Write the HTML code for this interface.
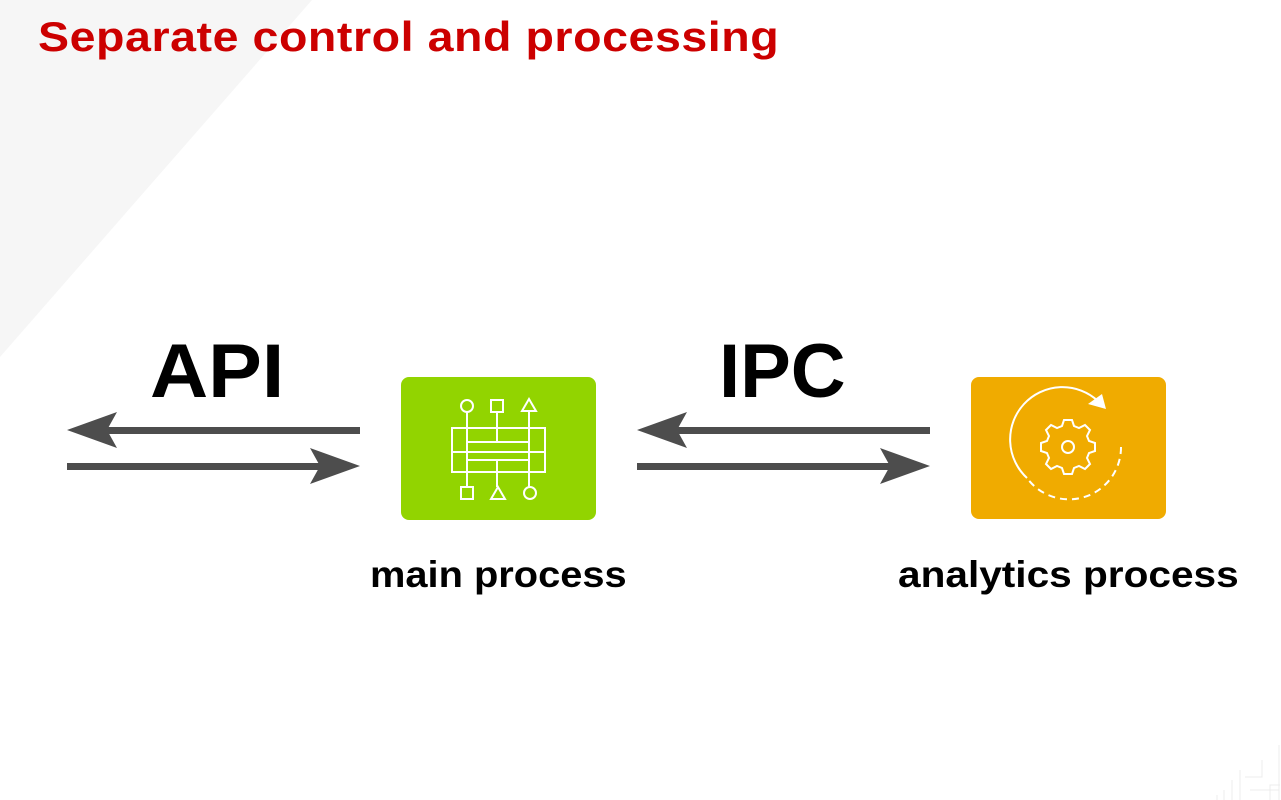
<!DOCTYPE html>
<html><head><meta charset="utf-8"><style>
body{margin:0;width:1281px;height:800px;overflow:hidden;background:#fff;font-family:"Liberation Sans",sans-serif;position:relative}
.t{position:absolute;font-weight:bold;white-space:nowrap;transform-origin:0 0}
</style></head><body>
<svg width="1281" height="800" style="position:absolute;left:0;top:0">
<polygon points="0,0 312,0 0,357" fill="#f6f6f6"/>
<g fill="none" stroke="#ececec" stroke-width="1">
<path d="M1262,760 V777 H1245 M1279,745 V790 H1250 M1279,755 V800 M1270,800 V785 H1280 M1240,800 V770 M1232,800 V780 M1224,800 V790 M1217,800 V795"/>
</g>
<g fill="#4d4d4d">
<rect x="105" y="427" width="255" height="7"/><polygon points="67,430 117,412 107,430 117,448"/>
<rect x="67" y="463" width="255" height="7"/><polygon points="360,466 310,448 320,466 310,484"/>
<rect x="675" y="427" width="255" height="7"/><polygon points="637,430 687,412 677,430 687,448"/>
<rect x="637" y="463" width="255" height="7"/><polygon points="930,466 880,448 890,466 880,484"/>
</g>
<rect x="401" y="377" width="195" height="143" rx="8" fill="#92d400"/>
<g fill="none" stroke="#fff" stroke-width="2">
<circle cx="467" cy="406" r="6"/><rect x="491" y="400" width="12" height="12"/><polygon points="529,399 536,411 522,411"/>
<rect x="452" y="428" width="93" height="44"/>
<path d="M468,442 H529 M452,452 H545 M468,460 H529 M467,412 V487 M497,412 V442 M497,460 V487 M529,412 V487"/>
<rect x="461" y="487" width="12" height="12"/><polygon points="498,487 505,499 491,499"/><circle cx="530" cy="493" r="6"/>
</g>
<rect x="971" y="377" width="195" height="142" rx="8" fill="#f0ab00"/>
<g fill="none" stroke="#fff" stroke-width="2">
<path d="M1027,478 A50,50 0 0 1 1098,401"/>
<path d="M1121,447 A52,52 0 0 1 1027,478" stroke-dasharray="7,5"/>
<circle cx="1068" cy="447" r="6"/>
<path d="M1064,420 h8 l2,6 l5,2 l6,-3 l5,5 l-3,6 l2,5 l6,2 v8 l-6,2 l-2,5 l3,6 l-5,5 l-6,-3 l-5,2 l-2,6 h-8 l-2,-6 l-5,-2 l-6,3 l-5,-5 l3,-6 l-2,-5 l-6,-2 v-8 l6,-2 l2,-5 l-3,-6 l5,-5 l6,3 l5,-2 z"/>
</g>
<polygon points="1106,409 1088,404 1102,394" fill="#fff"/>
</svg>
<div class="t" style="left:38px;top:13px;font-size:42px;color:#cc0000;letter-spacing:0.5px;transform:scaleX(1.108)">Separate control and processing</div>
<div class="t" style="left:150px;top:328px;font-size:76px;color:#000;transform:scaleX(1.06)">API</div>
<div class="t" style="left:719px;top:328px;font-size:76px;color:#000">IPC</div>
<div class="t" style="left:370px;top:554px;font-size:37px;color:#000;transform:scaleX(1.076)">main process</div>
<div class="t" style="left:898px;top:554px;font-size:37px;color:#000;transform:scaleX(1.097)">analytics process</div>
</body></html>
